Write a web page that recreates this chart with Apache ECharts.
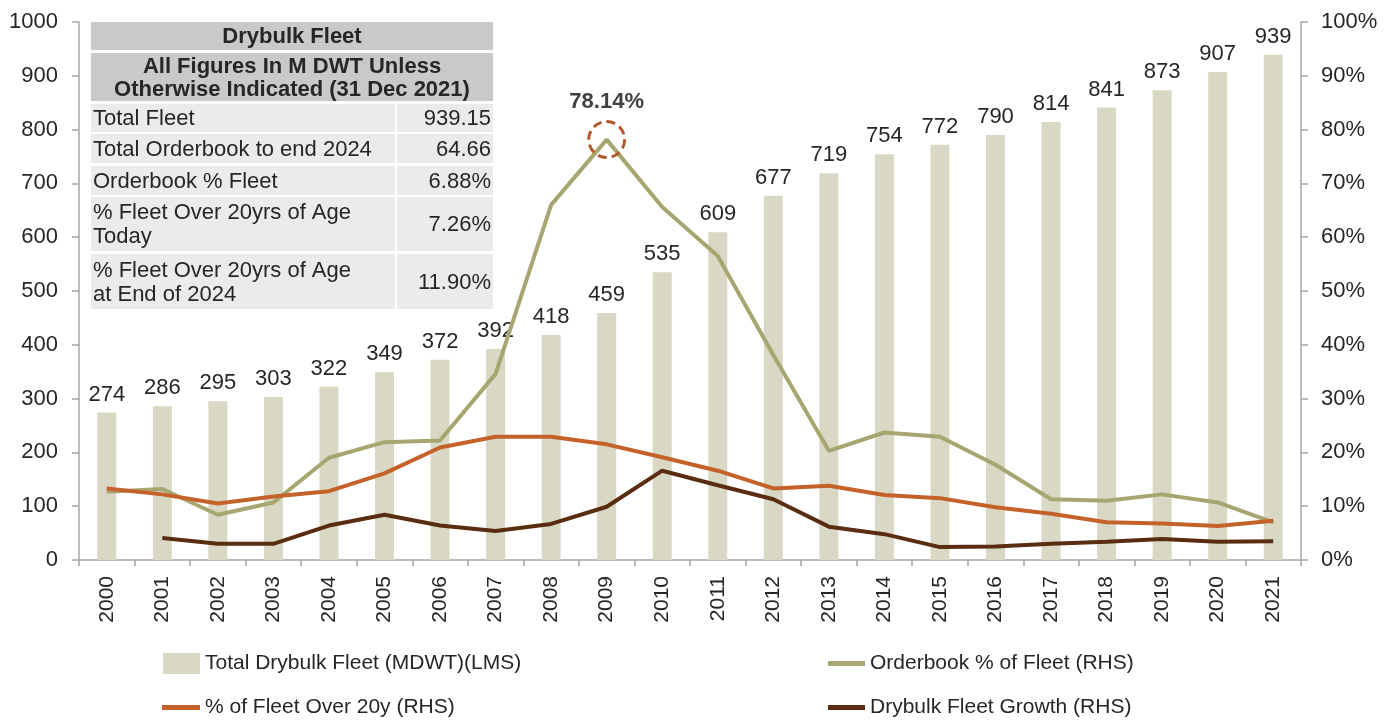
<!DOCTYPE html>
<html>
<head>
<meta charset="utf-8">
<script src="https://cdn.jsdelivr.net/npm/echarts@6/dist/echarts.min.js"></script>
<style>html,body{margin:0;padding:0;background:#fff;}#c{width:1398px;height:720px;}</style>
</head>
<body>
<div id="c"></div>
<script>
var years = ['2000','2001','2002','2003','2004','2005','2006','2007','2008','2009','2010','2011','2012','2013','2014','2015','2016','2017','2018','2019','2020','2021'];
var fleet = [274,286,295,303,322,349,372,392,418,459,535,609,677,719,754,772,790,814,841,873,907,939];
var orderbookPct = [12.7,13.2,8.4,10.7,19.0,21.9,22.2,34.6,66.0,78.14,65.6,56.5,38.1,20.3,23.7,22.9,17.7,11.3,11.0,12.2,10.7,7.0];
var over20Pct = [13.3,12.2,10.5,11.8,12.8,16.1,20.9,22.9,22.9,21.5,19.1,16.6,13.3,13.8,12.1,11.5,9.8,8.6,7.0,6.8,6.3,7.3];
var growthPct = [null,4.1,3.0,3.0,6.4,8.4,6.4,5.4,6.7,9.9,16.6,13.9,11.3,6.2,4.8,2.4,2.5,3.0,3.4,3.9,3.4,3.5];
var leftTicks = {min:0, max:1000, interval:100};
var rightTicks = {min:0, max:100, interval:10};
var seriesNames = ['Total Drybulk Fleet (MDWT)(LMS)','Orderbook % of Fleet (RHS)','% of Fleet Over 20y (RHS)','Drybulk Fleet Growth (RHS)'];
var peakLabel = '78.14%';
var tableTitle = 'Drybulk Fleet';
var tableSubtitle = 'All Figures In M DWT Unless\nOtherwise Indicated (31 Dec 2021)';
var tableLabels = ['Total Fleet','Total Orderbook to end 2024','Orderbook % Fleet','% Fleet Over 20yrs of Age\nToday','% Fleet Over 20yrs of Age\nat End of 2024'];
var tableValues = ['939.15','64.66','6.88%','7.26%','11.90%'];

var FONT = 'Liberation Sans';
var TXT = '#262626';
var AX = '#a6a6a6';
var C_BAR = '#d9d8c4', C_OB = '#a8a670', C_OV = '#c4622a', C_GR = '#5a2c10';

// table graphic
var rowY = [104, 134, 166, 197, 254];
var rowH = [28, 29, 29, 54, 55];
var tx = 91, tw = 402, sep = 396;
var g = [];
g.push({type:'rect', shape:{x:tx,y:22,width:tw,height:28}, style:{fill:'#c9c9c9'}, z:10});
g.push({type:'text', x:tx+tw/2, y:37, style:{text:tableTitle, font:'bold 22px "Liberation Sans"', fill:TXT, align:'center', verticalAlign:'middle'}, z:11});
g.push({type:'rect', shape:{x:tx,y:53,width:tw,height:48}, style:{fill:'#c9c9c9'}, z:10});
g.push({type:'text', x:tx+tw/2, y:78, style:{text:tableSubtitle, font:'bold 22px "Liberation Sans"', fill:TXT, align:'center', verticalAlign:'middle', lineHeight:23}, z:11});
for (var i=0;i<tableLabels.length;i++){
  g.push({type:'rect', shape:{x:tx,y:rowY[i],width:sep-tx-1,height:rowH[i]}, style:{fill:'#ebebeb'}, z:10});
  g.push({type:'rect', shape:{x:sep+1,y:rowY[i],width:tx+tw-sep-1,height:rowH[i]}, style:{fill:'#ebebeb'}, z:10});
  g.push({type:'text', x:tx+2, y:rowY[i]+rowH[i]/2+1, style:{text:tableLabels[i], font:'22px "Liberation Sans"', fill:TXT, align:'left', verticalAlign:'middle', lineHeight:24}, z:11});
  g.push({type:'text', x:tx+tw-2, y:rowY[i]+rowH[i]/2+1, style:{text:tableValues[i], font:'22px "Liberation Sans"', fill:TXT, align:'right', verticalAlign:'middle'}, z:11});
}

var legendText = {fontFamily:FONT, fontSize:21, color:TXT};
var chart = echarts.init(document.getElementById('c'));
chart.setOption({
  animation:false,
  textStyle:{fontFamily:FONT},
  grid:{left:79, right:97, top:22, bottom:160, containLabel:false},
  legend:[
    {left:163, top:653, padding:0, itemWidth:37, itemHeight:21, textStyle:legendText, data:[{name:seriesNames[0], icon:'rect'}]},
    {left:828, top:653, padding:0, itemWidth:37, itemHeight:5, textStyle:legendText, data:[{name:seriesNames[1], icon:'rect'}]},
    {left:162, top:697, padding:0, itemWidth:38, itemHeight:5, textStyle:legendText, data:[{name:seriesNames[2], icon:'rect'}]},
    {left:828, top:697, padding:0, itemWidth:37, itemHeight:5, textStyle:legendText, data:[{name:seriesNames[3], icon:'rect'}]}
  ],
  xAxis:{
    type:'category', data:years, boundaryGap:true,
    axisLine:{lineStyle:{color:AX, width:1.5}},
    axisTick:{show:true, length:6, lineStyle:{color:AX, width:1.5}},
    axisLabel:{rotate:90, color:TXT, fontSize:21, fontFamily:FONT, margin:16, interval:0}
  },
  yAxis:[
    {type:'value', min:leftTicks.min, max:leftTicks.max, interval:leftTicks.interval,
     splitLine:{show:false},
     axisLine:{show:true, lineStyle:{color:AX, width:1.5}},
     axisTick:{show:true, length:7, lineStyle:{color:AX, width:1.5}},
     axisLabel:{color:TXT, fontSize:22, fontFamily:FONT, margin:21, formatter:function(v){return String(v);}}},
    {type:'value', min:rightTicks.min, max:rightTicks.max, interval:rightTicks.interval, position:'right',
     splitLine:{show:false},
     axisLine:{show:true, lineStyle:{color:AX, width:1.5}},
     axisTick:{show:true, length:7, lineStyle:{color:AX, width:1.5}},
     axisLabel:{color:TXT, fontSize:22, fontFamily:FONT, margin:20, formatter:'{value}%'}}
  ],
  series:[
    {name:seriesNames[0], type:'bar', data:fleet, barWidth:19, itemStyle:{color:C_BAR},
     label:{show:true, position:'top', distance:7, color:TXT, fontSize:22, fontFamily:FONT}, z:1},
    {name:seriesNames[1], type:'line', yAxisIndex:1, data:orderbookPct, symbol:'none', lineStyle:{color:C_OB, width:4}, itemStyle:{color:C_OB}, z:3,
     markPoint:{symbol:'circle', symbolSize:36, silent:true,
       data:[{coord:['2009', 78.14], value:78.14}],
       itemStyle:{color:'rgba(0,0,0,0)', borderColor:'#b5562a', borderWidth:3, borderType:[9,5]},
       label:{show:true, position:'top', distance:7, formatter:peakLabel, color:'#404040', fontSize:22, fontWeight:'bold', fontFamily:FONT}}},
    {name:seriesNames[2], type:'line', yAxisIndex:1, data:over20Pct, symbol:'none', lineStyle:{color:C_OV, width:4}, itemStyle:{color:C_OV}, z:4},
    {name:seriesNames[3], type:'line', yAxisIndex:1, data:growthPct, symbol:'none', lineStyle:{color:C_GR, width:4}, itemStyle:{color:C_GR}, z:5}
  ],
  graphic:g
});
</script>
</body>
</html>
